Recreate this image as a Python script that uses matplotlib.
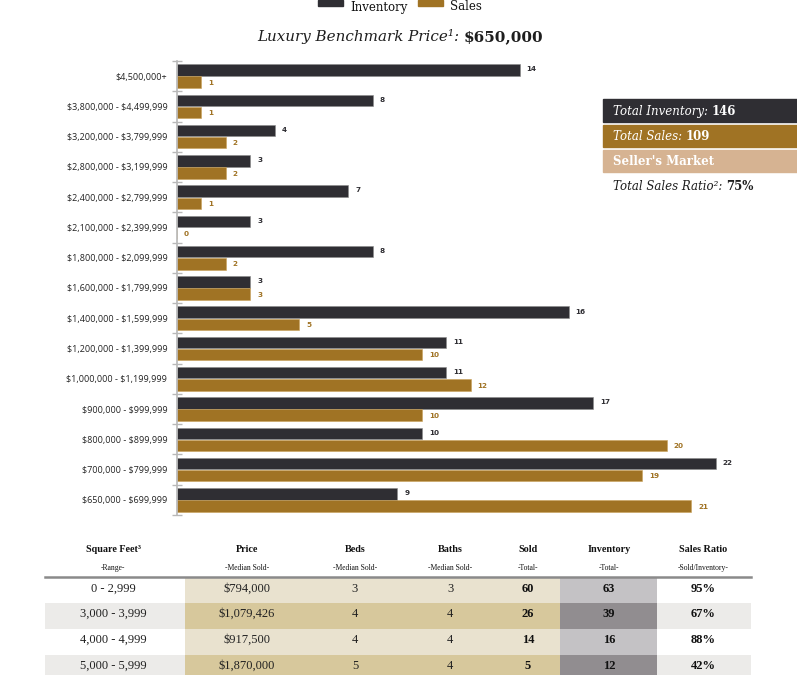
import matplotlib
matplotlib.use("Agg")
import matplotlib.pyplot as plt
from matplotlib.patches import Rectangle
import numpy as np

plt.rcParams["text.parse_math"] = False

# ---------------- data ----------------
categories = ["$4,500,000+", "$3,800,000 - $4,499,999", "$3,200,000 - $3,799,999",
              "$2,800,000 - $3,199,999", "$2,400,000 - $2,799,999", "$2,100,000 - $2,399,999",
              "$1,800,000 - $2,099,999", "$1,600,000 - $1,799,999", "$1,400,000 - $1,599,999",
              "$1,200,000 - $1,399,999", "$1,000,000 - $1,199,999", "$900,000 - $999,999",
              "$800,000 - $899,999", "$700,000 - $799,999", "$650,000 - $699,999"]
inventory = [14, 8, 4, 3, 7, 3, 8, 3, 16, 11, 11, 17, 10, 22, 9]
sales = [1, 1, 2, 2, 1, 0, 2, 3, 5, 10, 12, 10, 20, 19, 21]
series_names = ["Inventory", "Sales"]

benchmark_price = "$650,000"
total_inventory = "146"
total_sales = "109"
market_label = "Seller's Market"
sales_ratio_total = "75%"

table_headers = ["Square Feet³", "Price", "Beds", "Baths", "Sold", "Inventory", "Sales Ratio"]
table_subheaders = ["-Range-", "-Median Sold-", "-Median Sold-", "-Median Sold-", "-Total-", "-Total-", "-Sold/Inventory-"]
sqft_range = ["0 - 2,999", "3,000 - 3,999", "4,000 - 4,999", "5,000 - 5,999"]
median_price = ["$794,000", "$1,079,426", "$917,500", "$1,870,000"]
median_beds = ["3", "4", "4", "5"]
median_baths = ["3", "4", "4", "4"]
sold_total = ["60", "26", "14", "5"]
inventory_total = ["63", "39", "16", "12"]
sales_ratio = ["95%", "67%", "88%", "42%"]

# ---------------- style ----------------
DARK = "#2f2e33"
GOLD = "#a07324"
TAN = "#d6b392"
W, H = 797, 675
fig = plt.figure(figsize=(W / 100, H / 100), dpi=100)

def fx(x):
    return x / W

def fy(y):
    return 1 - y / H

# ---------------- bar chart ----------------
top_px, bot_px, left_px = 61, 515, 177
ax = fig.add_axes([fx(left_px), fy(bot_px), fx(612), (bot_px - top_px) / H])
n = len(categories)
y = np.arange(n)
bh = 0.38
ax.barh(y - 0.2, inventory, height=bh, color=DARK, edgecolor="#8a8a8a", linewidth=0.4)
ax.barh(y + 0.2, sales, height=bh, color=GOLD, edgecolor="#c9a25a", linewidth=0.4)
ax.set_ylim(n - 0.5, -0.5)
ax.set_xlim(0, 25)
for sp in ["top", "right", "bottom"]:
    ax.spines[sp].set_visible(False)
ax.spines["left"].set_color("#b8b8b8")
ax.spines["left"].set_linewidth(1.2)
ax.set_xticks([])
ax.set_yticks(y)
ax.set_yticklabels(categories, fontsize=6.5, family="Open Sans", color="#222222")
ax.tick_params(axis="y", which="major", length=0, pad=7)
ax.set_yticks(np.arange(n + 1) - 0.5, minor=True)
ax.tick_params(axis="y", which="minor", length=7, direction="inout", color="#b8b8b8", width=1)
for i in range(n):
    ax.annotate(str(inventory[i]), (inventory[i], y[i] - 0.2), xytext=(5, 0.5),
                textcoords="offset points", fontsize=5.2, fontweight="bold",
                color=DARK, va="center", ha="left", family="DejaVu Sans")
    ax.annotate(str(sales[i]), (sales[i], y[i] + 0.2), xytext=(5, -0.5),
                textcoords="offset points", fontsize=5.2, fontweight="bold",
                color=GOLD, va="center", ha="left", family="DejaVu Sans")

# ---------------- legend (at top edge) ----------------
fig.patches.append(Rectangle((fx(318), fy(6)), fx(25), 6 / H, transform=fig.transFigure,
                             color=DARK, clip_on=False))
fig.text(fx(350), fy(0.5), series_names[0], fontsize=8.5, family="DejaVu Serif",
         color="#111111", va="top", ha="left")
fig.patches.append(Rectangle((fx(418), fy(6)), fx(25), 6 / H, transform=fig.transFigure,
                             color=GOLD, clip_on=False))
fig.text(fx(450), fy(0.5), series_names[1], fontsize=8.5, family="DejaVu Serif",
         color="#111111", va="top", ha="left")

# ---------------- title ----------------
def two_part(xp, yp, a, b, color, size):
    t = fig.text(fx(xp), fy(yp), a, fontsize=size, family="DejaVu Serif", style="italic",
                 color=color, va="baseline", ha="left")
    fig.canvas.draw()
    e = t.get_window_extent(fig.canvas.get_renderer())
    fig.text(e.x1 / W, fy(yp), b, fontsize=size, family="DejaVu Serif", fontweight="bold",
             color=color, va="baseline", ha="left")

two_part(257, 41, "Luxury Benchmark Price¹: ", benchmark_price, "#1e1e1e", 10.9)

# ---------------- summary boxes ----------------
def box(y0, y1, color):
    fig.patches.append(Rectangle((fx(603), fy(y1)), fx(797 - 603), (y1 - y0) / H,
                                 transform=fig.transFigure, color=color))

box(99, 122, DARK)
two_part(613, 115, "Total Inventory: ", total_inventory, "white", 8.5)
box(125, 147, GOLD)
two_part(613, 140, "Total Sales: ", total_sales, "white", 8.5)
box(150, 172, TAN)
fig.text(fx(613), fy(165), market_label, fontsize=8.5, family="DejaVu Serif",
         fontweight="bold", color="white", va="baseline", ha="left")
two_part(613, 190, "Total Sales Ratio²: ", sales_ratio_total, "#1e1e1e", 8.5)

# ---------------- table ----------------
col_centers = [113, 247, 355, 450, 528, 609, 703]
row_edges = [578, 603, 629, 655, 681]
beige = ["#e9e2cf", "#d7c89c"]
invgray = ["#c4c2c5", "#918d90"]
plain = ["#ffffff", "#ecebe9"]
for ri in range(4):
    y0, y1 = row_edges[ri], row_edges[ri + 1]
    k = ri % 2
    for x0, x1, c in [(45, 185, plain[k]), (185, 560, beige[k]),
                      (560, 657, invgray[k]), (657, 751, plain[k])]:
        fig.patches.append(Rectangle((fx(x0), fy(y1)), fx(x1 - x0), (y1 - y0) / H,
                                     transform=fig.transFigure, color=c, linewidth=0))

fig.lines.append(plt.Line2D([fx(45), fx(751)], [fy(577), fy(577)], transform=fig.transFigure,
                            color="#8a8a8a", linewidth=1.8))
for j, (h, s) in enumerate(zip(table_headers, table_subheaders)):
    fig.text(fx(col_centers[j]), fy(550), h, fontsize=7.3, family="Liberation Serif",
             fontweight="bold", color="#111111", ha="center", va="center")
    fig.text(fx(col_centers[j]), fy(568), s, fontsize=5.5, family="Liberation Serif",
             color="#111111", ha="center", va="center")

columns = [sqft_range, median_price, median_beds, median_baths, sold_total, inventory_total, sales_ratio]
bold_cols = {4, 5, 6}
for j, col in enumerate(columns):
    for ri, val in enumerate(col):
        yc = (row_edges[ri] + row_edges[ri + 1]) / 2 - 2
        fig.text(fx(col_centers[j]), fy(yc), val, fontsize=9,
                 family="Liberation Serif",
                 fontweight="bold" if j in bold_cols else "normal",
                 color="#222222" if j not in bold_cols else "#111111",
                 ha="center", va="center")

fig.savefig("out.png", dpi=100)
